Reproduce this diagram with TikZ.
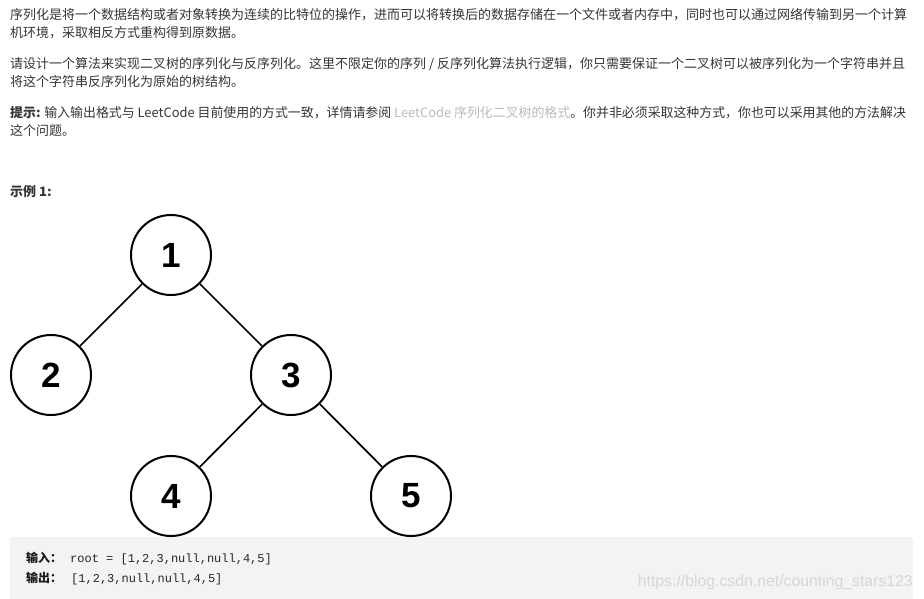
\documentclass[tikz,border=0pt]{standalone}
\usepackage{fontspec}
\newfontfamily\cjk{Noto Sans CJK SC}
\newfontfamily\digitfont{Liberation Sans}
\newfontfamily\monofont{Liberation Mono}
\newfontfamily\wmfont{Liberation Sans}
\definecolor{txt}{HTML}{363636}
\definecolor{linkc}{HTML}{BBBBBB}
\definecolor{codebg}{HTML}{F3F3F3}
\definecolor{wmc}{HTML}{D6D6D6}
\begin{document}
\begin{tikzpicture}[x=1pt,y=-1pt,
  para/.style={anchor=base west,inner sep=0pt,text=txt,font=\cjk\fontsize{13}{13}\selectfont},
  treenode/.style={circle,draw=black,line width=2pt,minimum size=80pt,inner sep=0pt,font=\digitfont\bfseries\fontsize{35}{35}\selectfont},
  edge/.style={line width=1.7pt,draw=black},
  codelabel/.style={anchor=base west,inner sep=0pt,text=black!90,font=\cjk\bfseries\fontsize{12}{12}\selectfont},
  codetext/.style={anchor=base west,inner sep=0pt,text=black!85,font=\monofont\fontsize{12}{12}\selectfont}]
\useasboundingbox (0,0) rectangle (924,599);
\fill[white] (0,0) rectangle (924,599);
% paragraphs
\node[para] (p1a) at (10,19.7) {序列化是将一个数据结构或者对象转换为连续的比特位的操作，进而可以将转换后的数据存储在一个文件或者内存中，同时也可以通过网络传输到另一个计算};
\node[para] (p1b) at (10,38) {机环境，采取相反方式重构得到原数据。};
\node[para] (p2a) at (10,68.7) {请设计一个算法来实现二叉树的序列化与反序列化。这里不限定你的序列 / 反序列化算法执行逻辑，你只需要保证一个二叉树可以被序列化为一个字符串并且};
\node[para] (p2b) at (10,86.7) {将这个字符串反序列化为原始的树结构。};
\node[para,xscale=0.993] (p3a) at (10,117.2) {{\bfseries 提示:} 输入输出格式与 LeetCode 目前使用的方式一致，详情请参阅 {\color{linkc}LeetCode 序列化二叉树的格式}。你并非必须采取这种方式，你也可以采用其他的方法解决};
\node[para] (p3b) at (10,135.7) {这个问题。};
\node[para,font=\cjk\bfseries\fontsize{13}{13}\selectfont] (ex) at (10,196.7) {示例 1:};
% tree
\node[treenode] (n1) at (171,255) {1};
\node[treenode] (n2) at (51,375) {2};
\node[treenode] (n3) at (291,375) {3};
\node[treenode] (n4) at (171,496) {4};
\node[treenode] (n5) at (411,496) {5};
\draw[edge] (n1) -- (n2);
\draw[edge] (n1) -- (n3);
\draw[edge] (n3) -- (n4);
\draw[edge] (n3) -- (n5);
% code box
\fill[codebg,rounded corners=3pt] (10,537) rectangle (913,604);
\node[codelabel] (in) at (26,562) {输入：};
\node[codetext] (inv) at (70,562) {root = [1,2,3,null,null,4,5]};
\node[codelabel] (out) at (26,582) {输出：};
\node[codetext] (outv) at (71,582) {[1,2,3,null,null,4,5]};
\node[anchor=base east,inner sep=0pt,text=wmc,font=\wmfont\fontsize{15.8}{15.8}\selectfont] (wm) at (913,586) {https://blog.csdn.net/counting\_stars123};
\end{tikzpicture}
\end{document}
